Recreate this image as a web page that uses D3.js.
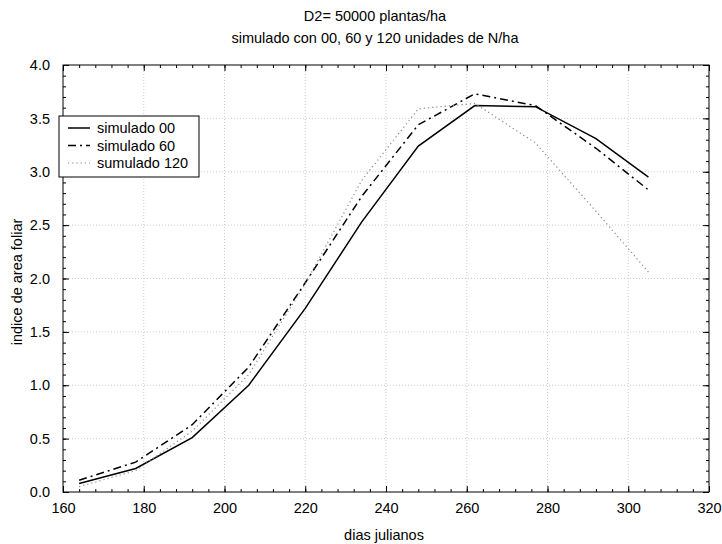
<!DOCTYPE html>
<html><head><meta charset="utf-8">
<script src="https://cdn.jsdelivr.net/npm/d3@7"></script>
<style>body{margin:0;background:#fff}svg{display:block}text{font-family:"Liberation Sans",Arial,sans-serif;}</style>
</head><body>
<script>
const dias = [164, 178, 192, 206, 220, 234, 248, 262, 277, 292, 305];
const sim00 = [0.08, 0.22, 0.51, 1.00, 1.72, 2.53, 3.24, 3.62, 3.61, 3.31, 2.95];
const sim60 = [0.11, 0.28, 0.63, 1.17, 1.96, 2.77, 3.44, 3.73, 3.62, 3.22, 2.83];
const sim120 = [0.05, 0.20, 0.57, 1.10, 1.95, 2.92, 3.59, 3.64, 3.27, 2.63, 2.06];
const xTicks = [160, 180, 200, 220, 240, 260, 280, 300, 320];
const yTicks = [0.0, 0.5, 1.0, 1.5, 2.0, 2.5, 3.0, 3.5, 4.0];
const seriesNames = ["simulado 00", "simulado 60", "sumulado 120"];
const titleLines = ["D2= 50000 plantas/ha", "simulado con 00, 60 y 120 unidades de N/ha"];

const W = 722, H = 544, FS = 14.5;
const L = 63, R = 709, T = 65, B = 492;
const svg = d3.select("body").append("svg").attr("width", W).attr("height", H);
const x = d3.scaleLinear().domain([160, 320]).range([L, R]);
const y = d3.scaleLinear().domain([0, 4]).range([B, T]);

// grid
svg.append("g").selectAll("line").data(xTicks.slice(1, -1)).join("line")
  .attr("x1", d => x(d)).attr("x2", d => x(d)).attr("y1", T).attr("y2", B)
  .attr("stroke", "#cccccc").attr("stroke-width", 1).attr("stroke-dasharray", "1,2");
svg.append("g").selectAll("line").data(yTicks.slice(1, -1)).join("line")
  .attr("y1", d => y(d)).attr("y2", d => y(d)).attr("x1", L).attr("x2", R)
  .attr("stroke", "#cccccc").attr("stroke-width", 1).attr("stroke-dasharray", "1,2");

// axes with inward ticks
const xMinor = d3.range(160, 321, 4);
const yMinor = d3.range(0, 4.001, 0.1);
function addAxis(axisGen, tr, labels) {
  const g = svg.append("g").attr("transform", tr).call(axisGen);
  g.select(".domain").remove();
  g.selectAll("line").attr("stroke", "#000");
  if (!labels) g.selectAll("text").remove();
  return g;
}
addAxis(d3.axisBottom(x).tickValues(xMinor).tickSize(-3).tickFormat(""), `translate(0,${B})`, false);
addAxis(d3.axisTop(x).tickValues(xMinor).tickSize(-3).tickFormat(""), `translate(0,${T})`, false);
addAxis(d3.axisLeft(y).tickValues(yMinor).tickSize(-3).tickFormat(""), `translate(${L},0)`, false);
addAxis(d3.axisRight(y).tickValues(yMinor).tickSize(-3).tickFormat(""), `translate(${R},0)`, false);
addAxis(d3.axisBottom(x).tickValues(xTicks).tickSize(-6).tickPadding(11).tickFormat(d3.format("d")), `translate(0,${B})`, true);
addAxis(d3.axisTop(x).tickValues(xTicks).tickSize(-6).tickFormat(""), `translate(0,${T})`, false);
addAxis(d3.axisLeft(y).tickValues(yTicks).tickSize(-6).tickPadding(13).tickFormat(d3.format(".1f")), `translate(${L},0)`, true);
addAxis(d3.axisRight(y).tickValues(yTicks).tickSize(-6).tickFormat(""), `translate(${R},0)`, false);
svg.selectAll("g text").attr("font-size", FS).attr("fill", "#000").style("font-family", "'Liberation Sans',Arial,sans-serif");

svg.append("rect").attr("x", L).attr("y", T).attr("width", R - L).attr("height", B - T)
  .attr("fill", "none").attr("stroke", "#000").attr("stroke-width", 1);

// lines
const styles = [
  {stroke: "#000", width: 1.5, dash: null},
  {stroke: "#000", width: 1.5, dash: "8,4,2,4"},
  {stroke: "#888", width: 1.2, dash: "1.2,3"}
];
const data = [sim00, sim60, sim120];
const line = d3.line().x((d, i) => x(dias[i])).y(d => y(d));
data.forEach((s, k) => {
  svg.append("path").datum(s).attr("d", line).attr("fill", "none")
    .attr("stroke", styles[k].stroke).attr("stroke-width", styles[k].width)
    .attr("stroke-dasharray", styles[k].dash);
});

// legend
const lg = svg.append("g");
lg.append("rect").attr("x", 59).attr("y", 116).attr("width", 140).attr("height", 61)
  .attr("fill", "#fff").attr("stroke", "#000").attr("stroke-width", 1);
seriesNames.forEach((n, k) => {
  const yy = 128 + k * 17.5;
  lg.append("line").attr("x1", 68).attr("x2", 90).attr("y1", yy).attr("y2", yy)
    .attr("stroke", styles[k].stroke).attr("stroke-width", styles[k].width)
    .attr("stroke-dasharray", styles[k].dash);
  lg.append("text").attr("x", 97).attr("y", yy + 5).attr("font-size", FS).text(n);
});

// titles
titleLines.forEach((t, i) => {
  svg.append("text").attr("x", 375).attr("y", 21 + i * 22).attr("text-anchor", "middle")
    .attr("font-size", FS).text(t);
});
svg.append("text").attr("x", 384).attr("y", 540).attr("text-anchor", "middle").attr("font-size", FS).text("dias julianos");
svg.append("text").attr("transform", `translate(22,282) rotate(-90)`).attr("text-anchor", "middle")
  .attr("font-size", FS).text("indice de area foliar");
</script>
</body></html>
